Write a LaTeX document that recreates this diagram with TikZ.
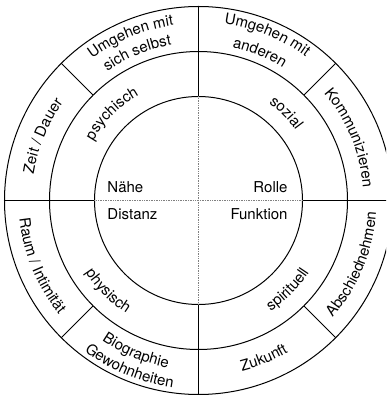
\documentclass[tikz,border=0pt]{standalone}
\usepackage{fontspec}
\setmainfont{TeX Gyre Heros}
\usetikzlibrary{decorations.text}
\newcommand\ringfont{\fontsize{15}{18}\selectfont}

\begin{document}
\begin{tikzpicture}[line width=1pt] %% circle chart
	\tikzstyle{ringtext}=[decorate,decoration={text along path,text align=center,text={|\ringfont|#1}}];
	\tikzstyle{dotline}=[densely dotted,gray,line width=0.7pt];
	\tikzstyle{word}=[inner sep=0pt,font=\ringfont];
	\clip (-198.5pt,-194.5pt) rectangle (187.5pt,200.5pt);
	\coordinate (M) at (0,0);
	% rings
	\draw (M) circle[radius=104pt];
	\draw (M) circle[radius=149pt];
	\draw (M) circle[radius=194pt];
	% cross
	\draw[dotline] (-104pt,0pt) -- (104pt,0pt);
	\draw[dotline] (0pt,-104pt) -- (0pt,104pt);
	\foreach \a in {0,90,180,270}
		\draw (\a:104pt) -- (\a:194pt);
	\foreach \a in {45,135,225,315}
		\draw (\a:149pt) -- (\a:194pt);
	% inner words
	\node[word,anchor=base west] (naehe) at (-91.5pt,7.5pt) {Nähe};
	\node[word,anchor=base east] (rolle) at (89.5pt,7.5pt) {Rolle};
	\node[word,anchor=base west] (distanz) at (-91.5pt,-19.5pt) {Distanz};
	\node[word,anchor=base east] (funktion) at (89.5pt,-19pt) {Funktion};
	% middle ring
	\path[ringtext={psychisch}] (180:121pt) arc[start angle=180,end angle=90,radius=121pt];
	\path[ringtext={sozial}] (90:120pt) arc[start angle=90,end angle=0,radius=120pt];
	\path[ringtext={physisch}] (180:134pt) arc[start angle=180,end angle=270,radius=134pt];
	\path[ringtext={spirituell}] (270:132pt) arc[start angle=270,end angle=360,radius=132pt];
	% outer ring
	\path[ringtext={Umgehen mit}] (150:177pt) arc[start angle=150,end angle=75,radius=177pt];
	\path[ringtext={sich selbst}] (150:158pt) arc[start angle=150,end angle=75,radius=158pt];
	\path[ringtext={Umgehen mit}] (105:179pt) arc[start angle=105,end angle=30,radius=179pt];
	\path[ringtext={anderen}] (105:157pt) arc[start angle=105,end angle=30,radius=157pt];
	\path[ringtext={Kommunizieren}] (60:165pt) arc[start angle=60,end angle=-15,radius=165pt];
	\path[ringtext={Zeit / Dauer}] (195:167pt) arc[start angle=195,end angle=120,radius=167pt];
	\path[ringtext={Raum / Intimität}] (165:180pt) arc[start angle=165,end angle=240,radius=180pt];
	\path[ringtext={Biographie}] (210:170pt) arc[start angle=210,end angle=285,radius=170pt];
	\path[ringtext={Gewohnheiten}] (210:189pt) arc[start angle=210,end angle=285,radius=189pt];
	\path[ringtext={Zukunft}] (255:176pt) arc[start angle=255,end angle=330,radius=176pt];
	\path[ringtext={Abschiednehmen}] (300:178pt) arc[start angle=300,end angle=375,radius=178pt];
\end{tikzpicture}
\end{document}
